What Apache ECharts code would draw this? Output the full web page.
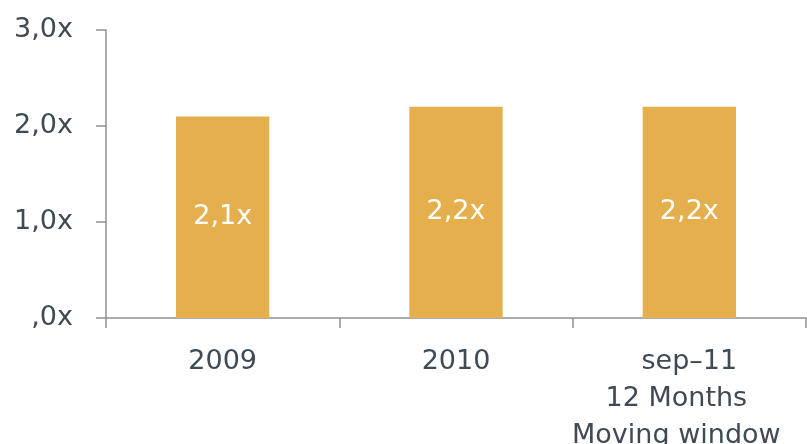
<!DOCTYPE html>
<html>
<head>
<meta charset="utf-8">
<script src="https://cdn.jsdelivr.net/npm/echarts@6/dist/echarts.min.js"></script>
<style>
  html, body { margin: 0; padding: 0; background: #fff; }
  #main { width: 807px; height: 444px; }
</style>
</head>
<body>
<div id="main"></div>
<script>
// Données
var categories = ['2009', '2010', 'sep\u201311'];
var subLabels = ['', '', '12 Months\nMoving window'];
var values = [2.1, 2.2, 2.2];
var yTicks = [0, 1, 2, 3];

function fmtX(v) {
	// format "2,1x" et ",0x" pour zéro
	var s = v.toFixed(1).replace('.', ',');
	if (v === 0) s = s.substring(1);
	return s + 'x';
}

var textColor = '#3f4a54';
var axisColor = '#8e9093';
var fontFam = 'DejaVu Sans';
var fs = 27;

var myChart = echarts.init(document.getElementById('main'));

var option = {
	animation: false,
	grid: {
		left: 106,
		right: 1,
		top: 30,
		bottom: 126,
		containLabel: false,
		outerBoundsMode: 'none'
	},
	xAxis: {
		type: 'category',
		data: categories,
		axisLine: { lineStyle: { color: axisColor, width: 1.5 } },
		axisTick: { show: true, interval: 0, length: 10, lineStyle: { color: axisColor, width: 1.5 } },
		axisLabel: {
			interval: 0,
			hideOverlap: false,
			margin: 26,
			color: textColor,
			fontFamily: fontFam,
			fontSize: fs,
			lineHeight: 36,
			formatter: function(value, idx) {
				var sub = subLabels[idx];
				if (!sub) return value;
				var lines = sub.split('\n');
				return value + '\n' + lines.map(function(l) { return '{s|' + l + '}'; }).join('\n');
			},
			rich: {
				s: {
					fontFamily: fontFam,
					fontSize: fs,
					lineHeight: 37,
					color: textColor,
					padding: [0, 26, 0, 0]
				}
			}
		}
	},
	yAxis: {
		type: 'value',
		min: yTicks[0],
		max: yTicks[yTicks.length - 1],
		interval: 1,
		splitLine: { show: false },
		axisLine: { show: true, lineStyle: { color: axisColor, width: 1.5 } },
		axisTick: { show: true, length: 10, lineStyle: { color: axisColor, width: 1.5 } },
		axisLabel: {
			margin: 33,
			color: textColor,
			fontFamily: fontFam,
			fontSize: fs,
			formatter: fmtX
		}
	},
	series: [{
		type: 'bar',
		data: values,
		barWidth: '40%',
		itemStyle: { color: '#e5af4e' },
		label: {
			show: true,
			position: 'inside',
			color: '#ffffff',
			fontFamily: fontFam,
			fontSize: fs,
			formatter: function(p) { return fmtX(p.value); }
		}
	}]
};

myChart.setOption(option);
</script>
</body>
</html>
